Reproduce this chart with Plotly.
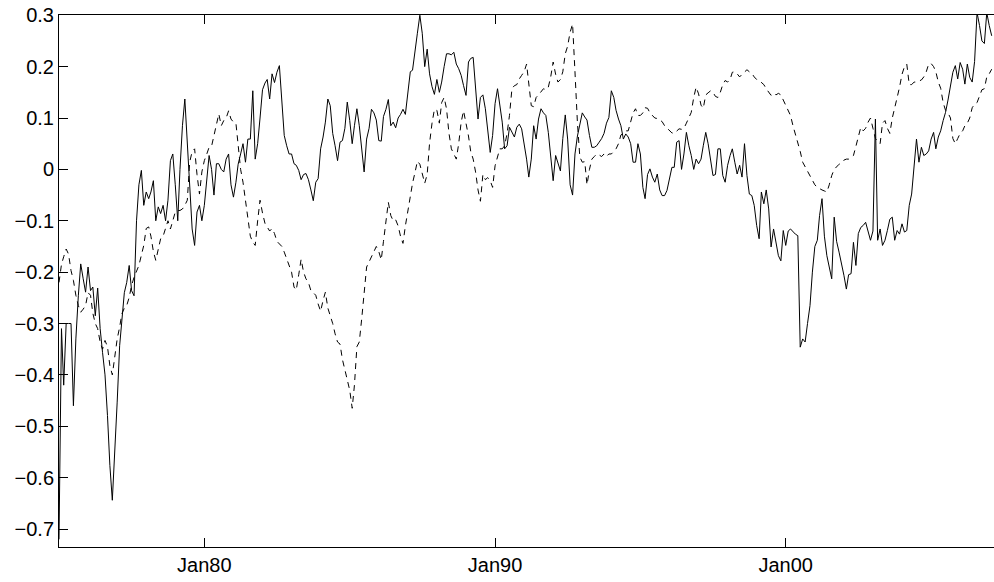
import plotly.graph_objects as go
import pandas as pd

# Monthly values starting Jan 1975
solid_values = [
    -0.72, -0.31, -0.42, -0.30, -0.30, -0.30, -0.46, -0.33, -0.246, -0.184, -0.213, -0.239,   # 1975
    -0.19, -0.236, -0.229, -0.285, -0.231, -0.31, -0.356, -0.40, -0.479, -0.576, -0.644, -0.556,  # 1976
    -0.453, -0.343, -0.285, -0.24, -0.22, -0.187, -0.236, -0.246, -0.10, -0.03, -0.002, -0.07,  # 1977
    -0.044, -0.057, -0.044, -0.022, -0.10, -0.073, -0.086, -0.07, -0.10, -0.06, 0.017, 0.03,  # 1978
    -0.03, -0.10, 0.0, 0.085, 0.137, 0.05, -0.05, -0.116, -0.148, -0.083, -0.07, -0.10,  # 1979
    -0.07, -0.02, 0.027, 0.0, -0.05, 0.011, 0.011, 0.0, -0.005, 0.02, 0.03, -0.03,  # 1980
    -0.054, -0.025, 0.01, 0.03, 0.05, 0.014, 0.059, 0.059, 0.153, 0.02, 0.05, 0.10,  # 1981
    0.155, 0.168, 0.175, 0.137, 0.186, 0.169, 0.189, 0.202, 0.14, 0.066, 0.046, 0.03,  # 1982
    0.03, 0.011, 0.008, -0.002, -0.02, -0.01, -0.008, -0.02, -0.04, -0.061, -0.025, -0.018,  # 1983
    0.04, 0.063, 0.092, 0.137, 0.124, 0.07, 0.046, 0.017, 0.053, 0.056, 0.08, 0.131,  # 1984
    0.095, 0.05, 0.085, 0.118, 0.085, 0.04, -0.005, 0.059, 0.08, 0.117, 0.11, 0.096,  # 1985
    0.056, 0.055, 0.103, 0.117, 0.136, 0.085, 0.092, 0.081, 0.10, 0.107, 0.117, 0.107,  # 1986
    0.15, 0.19, 0.193, 0.234, 0.265, 0.30, 0.265, 0.20, 0.234, 0.186, 0.161, 0.146,  # 1987
    0.175, 0.15, 0.17, 0.20, 0.225, 0.225, 0.223, 0.228, 0.205, 0.196, 0.183, 0.163,  # 1988
    0.144, 0.209, 0.216, 0.218, 0.157, 0.098, 0.14, 0.145, 0.118, 0.079, 0.033, 0.066,  # 1989
    0.128, 0.157, 0.124, 0.092, 0.04, 0.046, 0.082, 0.072, 0.063, 0.082, 0.088, 0.079,  # 1990
    0.053, 0.02, -0.015, 0.02, 0.085, 0.059, 0.098, 0.118, 0.11, 0.105, 0.072, 0.027,  # 1991
    -0.022, 0.027, 0.014, -0.003, 0.06, 0.106, 0.059, -0.03, -0.05, 0.03, 0.065, 0.09,  # 1992
    0.11, 0.102, 0.096, 0.066, 0.043, 0.043, 0.046, 0.053, 0.06, 0.07, 0.09, 0.101,  # 1993
    0.153, 0.14, 0.115, 0.098, 0.085, 0.059, 0.069, 0.063, 0.05, 0.014, 0.014, 0.05,  # 1994
    0.03, -0.035, -0.057, -0.01, 0.001, -0.015, -0.025, -0.009, -0.04, -0.051, -0.051, -0.041,  # 1995
    -0.015, 0.004, 0.004, 0.053, 0.056, 0.0, 0.03, 0.072, 0.046, 0.027, 0.0, 0.02,  # 1996
    0.011, 0.02, 0.046, 0.072, 0.05, 0.02, -0.012, -0.01, 0.04, 0.04, -0.012, -0.025,  # 1997
    0.008, 0.027, 0.04, 0.014, -0.009, 0.008, -0.015, 0.05, -0.012, -0.048, -0.051, -0.07,  # 1998
    -0.109, -0.135, -0.044, -0.067, -0.04, -0.077, -0.151, -0.116, -0.145, -0.168, -0.178, -0.119,  # 1999
    -0.148, -0.12, -0.116, -0.122, -0.126, -0.129, -0.346, -0.33, -0.336, -0.30, -0.265, -0.20,  # 2000
    -0.15, -0.138, -0.09, -0.057, -0.13, -0.168, -0.19, -0.213, -0.093, -0.14, -0.161, -0.181,  # 2001
    -0.206, -0.233, -0.205, -0.203, -0.142, -0.187, -0.125, -0.113, -0.109, -0.103, -0.119, -0.138,  # 2002
    -0.12, 0.098, -0.138, -0.116, -0.148, -0.138, -0.119, -0.097, -0.093, -0.138, -0.119, -0.126,  # 2003
    -0.106, -0.122, -0.119, -0.07, -0.048, 0.005, 0.059, 0.014, 0.043, 0.027, 0.03, 0.036,  # 2004
    0.059, 0.072, 0.04, 0.063, 0.075, 0.095, 0.111, 0.135, 0.166, 0.189, 0.202, 0.176,  # 2005
    0.208, 0.195, 0.166, 0.205, 0.179, 0.17, 0.21, 0.305, 0.28, 0.25, 0.245, 0.305,  # 2006
    0.28, 0.26,  # 2007
]

dashed_values = [
    -0.22, -0.185, -0.17, -0.155, -0.165, -0.197, -0.216, -0.245, -0.265, -0.278, -0.272, -0.265,  # 1975
    -0.24, -0.245, -0.28, -0.30, -0.31, -0.336, -0.35, -0.333, -0.345, -0.382, -0.40, -0.36,  # 1976
    -0.33, -0.307, -0.281, -0.27, -0.265, -0.249, -0.226, -0.21, -0.20, -0.187, -0.167, -0.148,  # 1977
    -0.115, -0.112, -0.13, -0.16, -0.177, -0.155, -0.135, -0.13, -0.113, -0.10, -0.116, -0.10,  # 1978
    -0.083, -0.08, -0.08, -0.077, -0.07, -0.06, 0.014, 0.035, 0.04, -0.01, -0.048, -0.005,  # 1979
    0.017, 0.03, 0.043, 0.045, 0.066, 0.09, 0.108, 0.085, 0.095, 0.10, 0.114, 0.098,  # 1980
    0.092, 0.09, 0.046, 0.0, -0.025, -0.06, -0.103, -0.13, -0.142, -0.148, -0.10, -0.06,  # 1981
    -0.085, -0.105, -0.112, -0.12, -0.115, -0.125, -0.14, -0.145, -0.15, -0.161, -0.174, -0.185,  # 1982
    -0.20, -0.229, -0.235, -0.205, -0.175, -0.20, -0.213, -0.22, -0.236, -0.24, -0.245, -0.262,  # 1983
    -0.276, -0.255, -0.239, -0.27, -0.284, -0.30, -0.32, -0.336, -0.34, -0.37, -0.39, -0.41,  # 1984
    -0.43, -0.465, -0.42, -0.345, -0.336, -0.29, -0.24, -0.19, -0.18, -0.17, -0.16, -0.15,  # 1985
    -0.16, -0.176, -0.14, -0.10, -0.064, -0.09, -0.10, -0.098, -0.11, -0.13, -0.144, -0.11,  # 1986
    -0.079, -0.057, -0.027, -0.006, 0.016, 0.01, -0.01, -0.027, -0.01, 0.051, 0.09, 0.117,  # 1987
    0.115, 0.09, 0.13, 0.14, 0.118, 0.07, 0.04, 0.03, 0.02, 0.05, 0.092, 0.114,  # 1988
    0.09, 0.065, 0.035, 0.02, -0.005, -0.04, -0.062, -0.01, -0.02, -0.016, -0.022, -0.035,  # 1989
    0.007, 0.027, 0.04, 0.04, 0.046, 0.07, 0.105, 0.157, 0.163, 0.165, 0.176, 0.183,  # 1990
    0.19, 0.205, 0.17, 0.124, 0.122, 0.14, 0.145, 0.15, 0.157, 0.155, 0.16, 0.18,  # 1991
    0.209, 0.185, 0.17, 0.175, 0.19, 0.225, 0.24, 0.267, 0.283, 0.19, 0.09, 0.024,  # 1992
    0.014, 0.015, -0.03, 0.0, 0.02, 0.025, 0.03, 0.028, 0.025, 0.03, 0.025, 0.03,  # 1993
    0.03, 0.035, 0.04, 0.05, 0.067, 0.07, 0.075, 0.075, 0.095, 0.11, 0.118, 0.105,  # 1994
    0.105, 0.11, 0.12, 0.119, 0.11, 0.105, 0.10, 0.099, 0.095, 0.093, 0.085, 0.08,  # 1995
    0.075, 0.071, 0.07, 0.075, 0.079, 0.078, 0.08, 0.09, 0.10, 0.111, 0.14, 0.16,  # 1996
    0.147, 0.125, 0.119, 0.145, 0.149, 0.153, 0.15, 0.142, 0.14, 0.15, 0.165, 0.173,  # 1997
    0.17, 0.175, 0.189, 0.19, 0.186, 0.18, 0.185, 0.19, 0.194, 0.19, 0.187, 0.18,  # 1998
    0.175, 0.173, 0.17, 0.165, 0.157, 0.15, 0.144, 0.148, 0.145, 0.148, 0.145, 0.135,  # 1999
    0.125, 0.115, 0.105, 0.085, 0.07, 0.05, 0.035, 0.014, 0.005, -0.005, -0.012, -0.02,  # 2000
    -0.03, -0.035, -0.038, -0.04, -0.042, -0.044, -0.03, -0.012, 0.0, 0.005, 0.01, 0.013,  # 2001
    0.018, 0.02, 0.02, 0.022, 0.027, 0.045, 0.066, 0.082, 0.075, 0.08, 0.092, 0.10,  # 2002
    0.08, 0.06, 0.055, 0.05, 0.09, 0.095, 0.08, 0.07, 0.10, 0.117, 0.14, 0.16,  # 2003
    0.185, 0.20, 0.205, 0.165, 0.165, 0.17, 0.17, 0.172, 0.174, 0.18, 0.19, 0.205,  # 2004
    0.206, 0.20, 0.19, 0.17, 0.158, 0.13, 0.115, 0.11, 0.10, 0.06, 0.05, 0.06,  # 2005
    0.07, 0.075, 0.085, 0.09, 0.10, 0.12, 0.127, 0.13, 0.145, 0.155, 0.157, 0.18,  # 2006
    0.186, 0.195,  # 2007
]

x_tick_dates = ["1980-01-01", "1990-01-01", "2000-01-01"]
x_tick_labels = ["Jan80", "Jan90", "Jan00"]
x_range = ["1975-01-01", "2007-06-23"]
y_range = [-0.735, 0.3005]

solid_dates = pd.date_range("1975-01-01", periods=len(solid_values), freq="MS")
dashed_dates = pd.date_range("1975-01-01", periods=len(dashed_values), freq="MS")

fig = go.Figure()
fig.add_trace(go.Scatter(
    x=dashed_dates, y=dashed_values, mode="lines",
    line=dict(color="black", width=1, dash="6px,5px"),
    showlegend=False, hoverinfo="skip",
))
fig.add_trace(go.Scatter(
    x=solid_dates, y=solid_values, mode="lines",
    line=dict(color="black", width=1),
    showlegend=False, hoverinfo="skip",
))

axis_common = dict(
    showgrid=False, zeroline=False, showline=True, linecolor="black", linewidth=1,
    ticks="inside", ticklen=9, tickwidth=1, tickcolor="black", automargin=False,
    mirror="ticks", ticklabeloverflow="allow",
    tickfont=dict(family="Liberation Sans, Arial, sans-serif", size=20, color="black"),
)

# The axes box's right edge runs just past the 994px window, as in the reference.
fig.update_layout(
    width=1003, height=582,
    margin=dict(l=59, r=0, t=15, b=35),
    plot_bgcolor="white", paper_bgcolor="white",
    showlegend=False,
    hovermode=False,
    xaxis=dict(type="date", range=x_range, tickmode="array",
               tickvals=x_tick_dates, ticktext=x_tick_labels, **axis_common),
    yaxis=dict(range=y_range, tickmode="linear", tick0=0, dtick=0.1, **axis_common),
)

fig.write_html(
    "out.html",
    config={"displayModeBar": False, "staticPlot": True},
    post_script="document.body.style.margin='0';document.body.style.overflow='hidden';",
)
